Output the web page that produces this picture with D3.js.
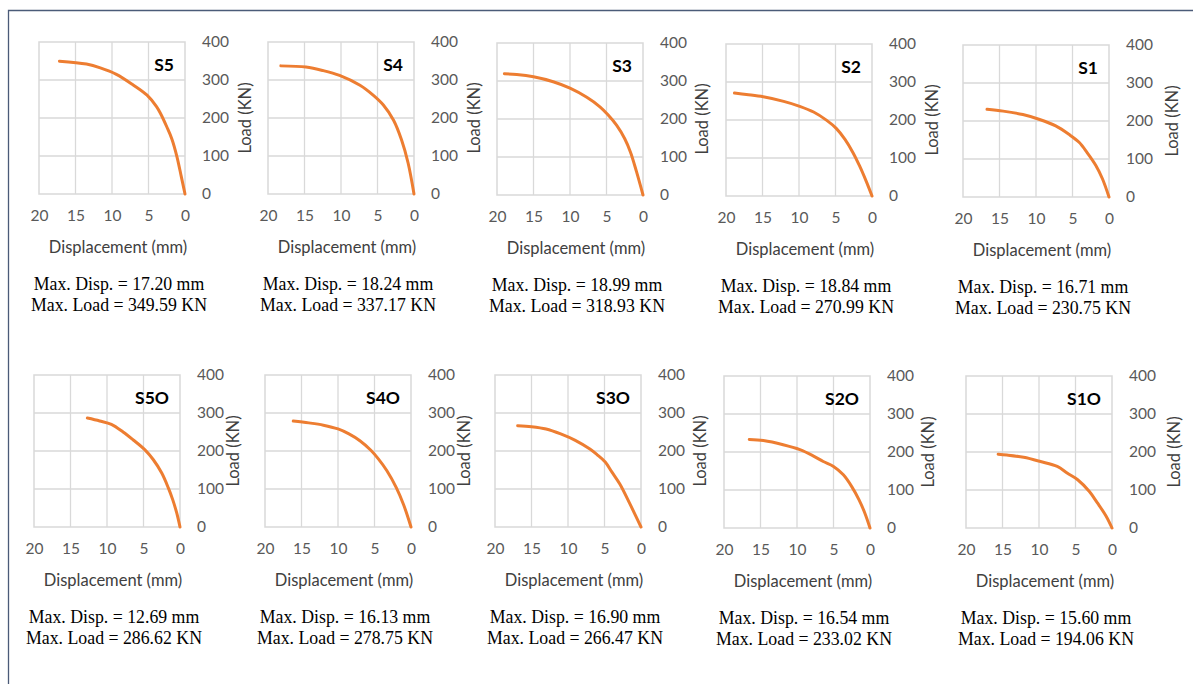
<!DOCTYPE html>
<html>
<head>
<meta charset="utf-8">
<script src="https://cdn.jsdelivr.net/npm/d3@7"></script>
<style>
  body { margin: 0; background: #fff; }
  svg { display: block; }
  .tick text { font-family: Lato, "Open Sans", sans-serif; font-size: 15.5px; fill: #595959; }
</style>
</head>
<body>
<svg id="chart" width="1194" height="684"></svg>
<script>
// specimens, in reading order (top row then bottom row)
const names = ["S5", "S4", "S3", "S2", "S1", "S5O", "S4O", "S3O", "S2O", "S1O"];
const maxDisp = ["17.20", "18.24", "18.99", "18.84", "16.71", "12.69", "16.13", "16.90", "16.54", "15.60"];
const maxLoad = ["349.59", "337.17", "318.93", "270.99", "230.75", "286.62", "278.75", "266.47", "233.02", "194.06"];

// load - displacement curves, [disp (mm), load (KN)]
const s5 = [[0,0],[0.5,45],[1.1,98],[1.8,145],[2.5,177],[3.3,210],[3.9,230],[5.2,260],[7.1,287],[9.4,315],[11.6,332],[13.5,342],[17.2,349.59]];
const s4 = [[0,0],[0.8,81],[1.7,142],[2.8,194],[4.2,234],[5.6,260],[7.4,286],[10.2,312],[12.5,325],[14.8,334],[18.24,337.17]];
const s3 = [[0,0],[0.9,62],[1.7,112],[2.5,148],[3.6,183],[4.8,211],[5.9,232],[7.7,257],[10,281],[12.3,298],[15,311],[17.3,317],[18.99,318.93]];
const s2 = [[0,0],[0.8,39],[1.7,79],[2.6,114],[3.7,149],[4.9,178],[6.2,199],[8,221],[9.9,236],[12.1,249],[14.9,261],[17.2,267],[18.84,270.99]];
const s1 = [[0,0],[0.9,48],[1.8,83],[3,117],[4.1,144],[5.5,165],[7.3,187],[9.5,204],[11.8,217],[14.5,226],[16.71,230.75]];
const s5o = [[0,0],[0.45,37],[1,72],[1.6,103],[2.5,142],[3.65,177],[4.8,203],[6.4,229],[7.8,250],[9.4,270],[11,279],[12.69,286.62]];
const s4o = [[0,0],[1,58],[2,103],[3.3,148],[4.5,180],[5.5,202],[7,227],[8.5,245],[10,258],[12,268],[14,274],[16.13,278.75]];
const s3o = [[0,0],[1.5,60],[2.9,113],[4,145],[4.9,171],[6,190],[7,205],[9,228],[11,245],[13,258],[15,264],[16.9,266.47]];
const s2o = [[0,0],[0.7,39],[1.5,74],[2.5,109],[3.65,140],[5,162],[6.4,175],[7.8,190],[9.6,206],[11.9,219],[14.6,230],[16.54,233.02]];
const s1o = [[0,0],[0.8,31],[2,66],[3.1,96],[4.7,127],[6.1,144],[7.5,162],[9.8,175],[12.1,186],[14.4,192],[15.6,194.06]];
const curves = [s5, s4, s3, s2, s1, s5o, s4o, s3o, s2o, s1o];

const xTicks = [20, 15, 10, 5, 0];
const yTicks = [0, 100, 200, 300, 400];

// panel placement
const boxLeft = [39, 268, 497, 726, 963, 34, 265, 495, 724, 966];
const boxTop = [42, 42, 43, 44, 45, 375, 375, 375, 376, 376];
const loadOffset = [60, 60, 59, 60, 63, 53, 53, 59, 58, 62];
const boxW = 146, boxH = 152;

const orange = "#ED7D31";
const grid = "#d9d9d9";
const sans = 'Lato, "Open Sans", sans-serif';
const serif = '"Liberation Serif", "Times New Roman", serif';

const svg = d3.select("#chart");

// outer frame (left + top edges)
svg.append("path")
    .attr("d", "M8.5,684 L8.5,10.5 L1193,10.5")
    .attr("fill", "none")
    .attr("stroke", "#4b5b78")
    .attr("stroke-width", 1.3);

names.forEach(function (name, i) {
    let g = svg.append("g")
        .attr("transform", "translate(" + boxLeft[i] + "," + boxTop[i] + ")");

    let x = d3.scaleLinear().domain([20, 0]).range([0, boxW]);
    let y = d3.scaleLinear().domain([0, 400]).range([boxH, 0]);

    // gridlines
    g.append("g").selectAll("line")
        .data([15, 10, 5])
        .enter().append("line")
        .attr("x1", d => x(d)).attr("x2", d => x(d))
        .attr("y1", 0).attr("y2", boxH)
        .attr("stroke", grid).attr("stroke-width", 1.3);

    g.append("g").selectAll("line")
        .data([100, 200, 300])
        .enter().append("line")
        .attr("x1", 0).attr("x2", boxW)
        .attr("y1", d => y(d)).attr("y2", d => y(d))
        .attr("stroke", grid).attr("stroke-width", 1.3);

    g.append("rect")
        .attr("width", boxW).attr("height", boxH)
        .attr("fill", "none")
        .attr("stroke", grid).attr("stroke-width", 1.5);

    // axes
    let xAxis = g.append("g")
        .attr("transform", "translate(0," + boxH + ")")
        .call(d3.axisBottom(x).tickValues(xTicks).tickSize(0).tickPadding(16));
    xAxis.select(".domain").remove();

    let yAxis = g.append("g")
        .attr("transform", "translate(" + boxW + ",0)")
        .call(d3.axisRight(y).tickValues(yTicks).tickSize(0).tickPadding(17));
    yAxis.select(".domain").remove();

    // curve
    g.append("path")
        .datum(curves[i])
        .attr("fill", "none")
        .attr("stroke", orange)
        .attr("stroke-width", 3)
        .attr("stroke-linecap", "round")
        .attr("stroke-linejoin", "round")
        .attr("d", d3.line().x(d => x(d[0])).y(d => y(d[1])).curve(d3.curveCatmullRom.alpha(0.5)));

    // specimen label
    g.append("text")
        .attr("x", boxW - 11).attr("y", 29)
        .attr("text-anchor", "end")
        .style("font-family", sans).style("font-size", "17.5px").style("font-weight", "bold")
        .attr("fill", "#000")
        .text(name);

    // axis titles
    g.append("text")
        .attr("x", boxW / 2 + 6).attr("y", boxH + 53)
        .attr("dy", "0.35em")
        .attr("text-anchor", "middle")
        .style("font-family", sans).style("font-size", "16.5px")
        .attr("fill", "#404040")
        .text("Displacement (mm)");

    g.append("text")
        .attr("transform", "translate(" + (boxW + loadOffset[i]) + "," + (boxH / 2) + ") rotate(-90)")
        .attr("dy", "0.35em")
        .attr("text-anchor", "middle")
        .style("font-family", sans).style("font-size", "16.5px")
        .attr("fill", "#404040")
        .text("Load (KN)");

    // summary lines
    g.append("text")
        .attr("x", boxW / 2 + 7).attr("y", boxH + 90)
        .attr("dy", "0.35em")
        .attr("text-anchor", "middle")
        .style("font-family", serif).style("font-size", "17.8px")
        .attr("fill", "#000")
        .text("Max. Disp. = " + maxDisp[i] + " mm");

    g.append("text")
        .attr("x", boxW / 2 + 7).attr("y", boxH + 111)
        .attr("dy", "0.35em")
        .attr("text-anchor", "middle")
        .style("font-family", serif).style("font-size", "17.8px")
        .attr("fill", "#000")
        .text("Max. Load = " + maxLoad[i] + " KN");
});
</script>
</body>
</html>
